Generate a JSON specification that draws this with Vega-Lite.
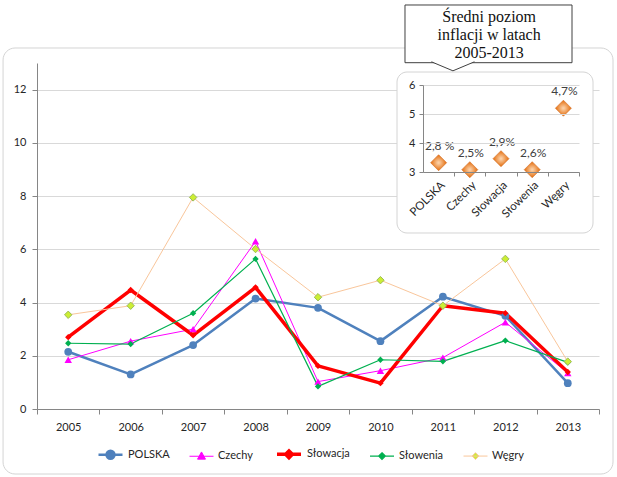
{
  "$schema": "https://vega.github.io/schema/vega-lite/v6.json",
  "width": 562,
  "height": 346,
  "autosize": {"type": "none"},
  "padding": {"left": 37, "top": 63, "right": 18, "bottom": 68},
  "background": "white",
  "config": {
    "view": {"stroke": null},
    "font": "Lato",
    "axis": {"labelFont": "Lato", "labelFontSize": 11, "labelColor": "#262626", "domainColor": "#868686", "tickColor": "#868686", "gridColor": "#d9d9d9", "tickSize": 5}
  },
  "datasets": {
    "inflacja": [
      {"rok": 2005, "kraj": "POLSKA", "wartosc": 2.15},
      {"rok": 2006, "kraj": "POLSKA", "wartosc": 1.3},
      {"rok": 2007, "kraj": "POLSKA", "wartosc": 2.4},
      {"rok": 2008, "kraj": "POLSKA", "wartosc": 4.15},
      {"rok": 2009, "kraj": "POLSKA", "wartosc": 3.8},
      {"rok": 2010, "kraj": "POLSKA", "wartosc": 2.55},
      {"rok": 2011, "kraj": "POLSKA", "wartosc": 4.22},
      {"rok": 2012, "kraj": "POLSKA", "wartosc": 3.5},
      {"rok": 2013, "kraj": "POLSKA", "wartosc": 0.97},
      {"rok": 2005, "kraj": "Czechy", "wartosc": 1.85},
      {"rok": 2006, "kraj": "Czechy", "wartosc": 2.55},
      {"rok": 2007, "kraj": "Czechy", "wartosc": 3.0},
      {"rok": 2008, "kraj": "Czechy", "wartosc": 6.3},
      {"rok": 2009, "kraj": "Czechy", "wartosc": 1.03},
      {"rok": 2010, "kraj": "Czechy", "wartosc": 1.44},
      {"rok": 2011, "kraj": "Czechy", "wartosc": 1.93},
      {"rok": 2012, "kraj": "Czechy", "wartosc": 3.26},
      {"rok": 2013, "kraj": "Czechy", "wartosc": 1.35},
      {"rok": 2005, "kraj": "Słowacja", "wartosc": 2.7},
      {"rok": 2006, "kraj": "Słowacja", "wartosc": 4.47},
      {"rok": 2007, "kraj": "Słowacja", "wartosc": 2.77},
      {"rok": 2008, "kraj": "Słowacja", "wartosc": 4.57},
      {"rok": 2009, "kraj": "Słowacja", "wartosc": 1.62},
      {"rok": 2010, "kraj": "Słowacja", "wartosc": 0.97},
      {"rok": 2011, "kraj": "Słowacja", "wartosc": 3.88},
      {"rok": 2012, "kraj": "Słowacja", "wartosc": 3.6},
      {"rok": 2013, "kraj": "Słowacja", "wartosc": 1.39},
      {"rok": 2005, "kraj": "Słowenia", "wartosc": 2.47},
      {"rok": 2006, "kraj": "Słowenia", "wartosc": 2.44},
      {"rok": 2007, "kraj": "Słowenia", "wartosc": 3.6},
      {"rok": 2008, "kraj": "Słowenia", "wartosc": 5.64},
      {"rok": 2009, "kraj": "Słowenia", "wartosc": 0.85},
      {"rok": 2010, "kraj": "Słowenia", "wartosc": 1.85},
      {"rok": 2011, "kraj": "Słowenia", "wartosc": 1.79},
      {"rok": 2012, "kraj": "Słowenia", "wartosc": 2.57},
      {"rok": 2013, "kraj": "Słowenia", "wartosc": 1.75},
      {"rok": 2005, "kraj": "Węgry", "wartosc": 3.54},
      {"rok": 2006, "kraj": "Węgry", "wartosc": 3.88},
      {"rok": 2007, "kraj": "Węgry", "wartosc": 7.95},
      {"rok": 2008, "kraj": "Węgry", "wartosc": 6.01},
      {"rok": 2009, "kraj": "Węgry", "wartosc": 4.2},
      {"rok": 2010, "kraj": "Węgry", "wartosc": 4.84},
      {"rok": 2011, "kraj": "Węgry", "wartosc": 3.88},
      {"rok": 2012, "kraj": "Węgry", "wartosc": 5.64},
      {"rok": 2013, "kraj": "Węgry", "wartosc": 1.78}
    ],
    "srednie": [
      {"kraj": "POLSKA", "nr": 1, "srednia": 3.32, "etykieta": "2,8 %"},
      {"kraj": "Czechy", "nr": 2, "srednia": 3.08, "etykieta": "2,5%"},
      {"kraj": "Słowacja", "nr": 3, "srednia": 3.46, "etykieta": "2,9%"},
      {"kraj": "Słowenia", "nr": 4, "srednia": 3.08, "etykieta": "2,6%"},
      {"kraj": "Węgry", "nr": 5, "srednia": 5.2, "etykieta": "4,7%"}
    ]
  },
  "layer": [
    {
      "data": {"name": "inflacja"},
      "encoding": {
        "x": {"field": "rok", "type": "ordinal", "scale": {"type": "band", "paddingInner": 0, "paddingOuter": 0},
              "axis": {"title": null, "tickBand": "extent", "labelAngle": 0, "labelPadding": 7, "grid": false}},
        "y": {"field": "wartosc", "type": "quantitative", "scale": {"domain": [0, 13], "nice": false},
              "axis": {"title": null, "values": [0, 2, 4, 6, 8, 10, 12], "grid": true, "labelPadding": 6}}
      },
      "layer": [
        {
          "mark": {"type": "line", "strokeJoin": "round", "strokeCap": "round"},
          "encoding": {
            "color": {"field": "kraj", "type": "nominal",
              "scale": {"domain": ["POLSKA", "Czechy", "Słowacja", "Słowenia", "Węgry"], "range": ["#4F81BD", "#FF00FF", "#FF0000", "#00B050", "#F9C69B"]},
              "legend": {
                "title": null, "orient": "none", "legendX": 60, "legendY": 377, "direction": "horizontal",
                "symbolSize": 576, "labelFont": "Lato", "labelFontSize": 11, "labelColor": "#262626",
                "labelOffset": 4, "columnPadding": 17, "padding": 0,
                "encode": {
                  "symbols": {
                    "update": {
                      "shape": [
                        {"test": "datum.value === 'POLSKA'", "value": "M-1,0L1,0M-0.33,0A0.33,0.33 0 1,0 0.33,0A0.33,0.33 0 1,0 -0.33,0Z"},
                        {"test": "datum.value === 'Czechy'", "value": "M-1,0L1,0M0,-0.36L0.33,0.24L-0.33,0.24Z"},
                        {"value": "M-1,0L1,0M0,-0.28L0.28,0L0,0.28L-0.28,0Z"}
                      ],
                      "fill": [
                        {"test": "datum.value === 'POLSKA'", "value": "#4F81BD"},
                        {"test": "datum.value === 'Czechy'", "value": "#FF00FF"},
                        {"test": "datum.value === 'Słowacja'", "value": "#FF0000"},
                        {"test": "datum.value === 'Słowenia'", "value": "#00B050"},
                        {"value": "#CCEE33"}
                      ],
                      "fillOpacity": {"value": 1},
                      "strokeWidth": [
                        {"test": "datum.value === 'POLSKA'", "value": 2.2},
                        {"test": "datum.value === 'Słowacja'", "value": 3},
                        {"value": 1.2}
                      ]
                    }
                  }
                }
              }
            },
            "strokeWidth": {"field": "kraj", "type": "nominal",
              "scale": {"type": "ordinal", "domain": ["POLSKA", "Czechy", "Słowacja", "Słowenia", "Węgry"], "range": [2.5, 1, 3.5, 1.2, 1]}, "legend": null}
          }
        },
        {
          "transform": [{"filter": "datum.kraj === 'POLSKA'"}],
          "mark": {"type": "point", "shape": "circle", "filled": true, "opacity": 1, "size": 60, "color": "#4F81BD"}
        },
        {
          "transform": [{"filter": "datum.kraj === 'Czechy'"}],
          "mark": {"type": "point", "shape": "triangle-up", "filled": true, "opacity": 1, "size": 55, "color": "#FF00FF"}
        },
        {
          "transform": [{"filter": "datum.kraj === 'Słowacja'"}],
          "mark": {"type": "point", "shape": "diamond", "filled": true, "opacity": 1, "size": 40, "color": "#FF0000"}
        },
        {
          "transform": [{"filter": "datum.kraj === 'Słowenia'"}],
          "mark": {"type": "point", "shape": "diamond", "filled": true, "opacity": 1, "size": 40, "color": "#00B050"}
        },
        {
          "transform": [{"filter": "datum.kraj === 'Węgry'"}],
          "mark": {"type": "point", "shape": "diamond", "filled": true, "opacity": 1, "size": 55, "fill": "#CCEE33", "stroke": "#9BBB59", "strokeWidth": 1}
        }
      ]
    },
    {
      "layer": [
        {
          "data": {"values": [{}]},
          "mark": {"type": "rect", "fill": "transparent", "stroke": "#d4d4d4", "strokeWidth": 1, "cornerRadius": 12},
          "encoding": {"x": {"datum": -12.96}, "x2": {"datum": 6.59}, "y": {"datum": 7.276}, "y2": {"datum": -7.414}}
        },
        {
          "data": {"values": [{}]},
          "mark": {"type": "rect", "fill": "white", "stroke": "#d4d4d4", "strokeWidth": 1, "cornerRadius": 10},
          "encoding": {"x": {"datum": -0.333}, "x2": {"datum": 5.949}, "y": {"datum": 6.448}, "y2": {"datum": 0.897}}
        },
        {
          "data": {"values": [{}]},
          "mark": {"type": "rect", "fill": "white", "stroke": "#404040", "strokeWidth": 1},
          "encoding": {"x": {"datum": -0.077}, "x2": {"datum": 5.276}, "y": {"datum": 8.759}, "y2": {"datum": 6.769}}
        },
        {
          "data": {"values": [{}]},
          "mark": {"type": "point", "shape": "M-1,-0.23L0,0.19L1,-0.23", "size": 1849, "filled": true, "fill": "white", "stroke": "#404040", "strokeWidth": 1, "opacity": 1},
          "encoding": {"x": {"datum": 1.46}, "y": {"datum": 6.63}}
        },
        {
          "data": {"values": [{}]},
          "mark": {"type": "text", "font": "Liberation Serif", "fontSize": 16, "color": "#111111", "lineBreak": "\n", "lineHeight": 18.3, "align": "center", "baseline": "middle"},
          "encoding": {"x": {"datum": 2.62}, "y": {"datum": 8.355}, "text": {"value": "Średni poziom\ninflacji w latach\n2005-2013"}}
        },
        {
          "data": {"name": "srednie"},
          "encoding": {
            "x": {"field": "nr", "type": "quantitative",
              "scale": {"domain": [0.5, 5.5], "range": [386, 542], "nice": false, "zero": false},
              "axis": {"title": null, "orient": "bottom", "offset": -237, "values": [1, 2, 3, 4, 5],
                       "labelExpr": "['','POLSKA','Czechy','Słowacja','Słowenia','Węgry'][datum.value]",
                       "labelAngle": -45, "labelOverlap": false, "labelFlush": false, "labelBound": false, "labelFontSize": 11.5,
                       "tickOffset": 15.6, "labelOffset": -15.6, "tickSize": 4, "labelPadding": 3, "grid": false, "zindex": 1}},
            "y": {"field": "srednia", "type": "quantitative",
              "scale": {"domain": [3, 6], "range": [109, 22], "nice": false, "zero": false},
              "axis": {"title": null, "orient": "left", "offset": -386, "values": [3, 4, 5, 6], "format": "d", "grid": true,
                       "tickSize": 4, "labelPadding": 4, "zindex": 1}}
          },
          "layer": [
            {
              "mark": {"type": "point", "shape": "diamond", "size": 256, "filled": true, "opacity": 1, "strokeWidth": 0.6, "stroke": "#D2691E",
                       "fill": {"gradient": "radial", "stops": [{"offset": 0, "color": "#FDD9B5"}, {"offset": 1, "color": "#E46C0A"}]}}
            },
            {
              "mark": {"type": "text", "font": "Lato", "fontSize": 12, "color": "#404040", "dy": -17, "dx": 1},
              "encoding": {"text": {"field": "etykieta"}}
            }
          ]
        }
      ]
    }
  ],
  "resolve": {"scale": {"x": "independent", "y": "independent"}, "axis": {"x": "independent", "y": "independent"}}
}
